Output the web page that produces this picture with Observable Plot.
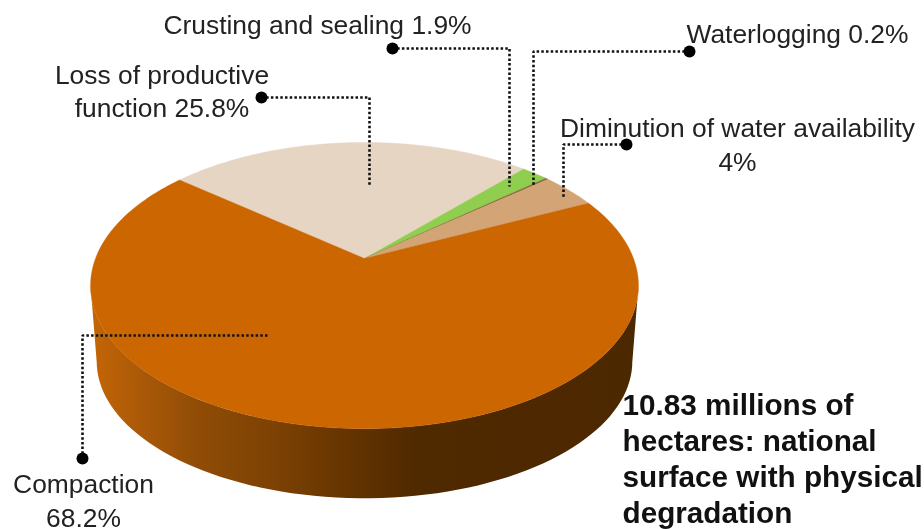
<!DOCTYPE html>
<html>
<head>
<meta charset="utf-8">
<style>html,body{margin:0;padding:0;background:#fff;overflow:hidden}svg{display:block;filter:blur(0.45px)}</style>
<script src="https://cdn.jsdelivr.net/npm/d3@7"></script>
<script src="https://cdn.jsdelivr.net/npm/@observablehq/plot@0.6"></script>
</head>
<body>
<script>
// Slices, clockwise from the back-left edge of the pie
const categories = ["Loss of productive function", "Crusting and sealing", "Waterlogging", "Diminution of water availability", "Compaction"];
const shares = [25.8, 1.9, 0.2, 4, 68.2];
const sliceColors = ["#e6d5c3", "#8fce4e", "#8a6a38", "#d3a475", "#cc6600"];

// Callouts
const labelTexts = ["Crusting and sealing 1.9%", "Waterlogging 0.2%", "Loss of productive\nfunction 25.8%", "Diminution of water availability\n4%", "Compaction\n68.2%"];
const labelX = [317, 797, 161.5, 737, 83];
const labelY = [22.6, 32, 89.4, 142.6, 499];
const noteText = "10.83 millions of\nhectares: national\nsurface with physical\ndegradation";

const leaderPaths = [
  [[392, 48], [509, 48], [509, 186]],
  [[689, 51], [533, 51], [533, 186]],
  [[261, 97], [369, 97], [369, 186]],
  [[626, 144], [563, 144], [563, 198]],
  [[82, 458], [82, 335], [267, 335]]
];

// Pie geometry: a tilted disc seen in perspective
const centerX = 364, topApexY = 258, bottomApexY = 335;
const radius = 269, bottomRadius = 263, persp = 0.189, lift = 138, bottomLift = 132;
const startDeg = 140.4;

function rim(deg, r, l, y0) {
  const a = deg * Math.PI / 180, u = Math.cos(a), v = Math.sin(a), w = 1 + persp * v;
  return {x: centerX + r * u / w, y: y0 - l * v / w};
}
const total = d3.sum(shares);
let cursor = startDeg;
const sliceRows = [];
categories.forEach((name, i) => {
  const sweep = shares[i] / total * 360;
  const n = Math.max(2, Math.ceil(sweep));
  sliceRows.push({name, x: centerX, y: topApexY});
  for (let j = 0; j <= n; j++) sliceRows.push({name, ...rim(cursor - sweep * j / n, radius, lift, topApexY)});
  sliceRows.push({name, x: centerX, y: topApexY});
  cursor -= sweep;
});
const sideRows = [];
for (let d = 191; d <= 349; d += 2) sideRows.push(rim(d, radius, lift, topApexY));
for (let d = 349; d >= 191; d -= 2) sideRows.push(rim(d, bottomRadius, bottomLift, bottomApexY));

const gradStops = [[0, "#c46606"], [0.1, "#a85808"], [0.2, "#8f4c06"], [0.35, "#7a4003"], [0.48, "#623300"], [0.6, "#4f2900"], [1, "#4c2800"]];
const sideGradient = () => {
  const defs = d3.create("svg:defs");
  const g = defs.append("linearGradient").attr("id", "sideGrad").attr("gradientUnits", "userSpaceOnUse")
    .attr("x1", 90).attr("x2", 640).attr("y1", 0).attr("y2", 0);
  gradStops.forEach(([o, c]) => g.append("stop").attr("offset", o).attr("stop-color", c));
  return defs.node();
};

const leaderRows = leaderPaths.flatMap((p, i) => p.map(([x, y]) => ({i, x, y})));
const dotRows = leaderPaths.map(p => ({x: p[0][0], y: p[0][1]}));
const labelRows = labelTexts.map((text, i) => ({text, x: labelX[i], y: labelY[i]}));

const chart = Plot.plot({
  width: 924, height: 529,
  marginTop: 0, marginRight: 0, marginBottom: 0, marginLeft: 0,
  style: {background: "#fff", fontFamily: "Liberation Sans, Arial, sans-serif"},
  x: {domain: [0, 924], range: [0, 924], axis: null},
  y: {domain: [0, 529], range: [0, 529], axis: null},
  color: {domain: categories, range: sliceColors},
  marks: [
    sideGradient,
    Plot.line(sideRows, {x: "x", y: "y", fill: "url(#sideGrad)", stroke: "none"}),
    Plot.line(sliceRows, {x: "x", y: "y", z: "name", fill: "name", stroke: "name", strokeWidth: 0.4}),
    Plot.line(leaderRows, {x: "x", y: "y", z: "i", stroke: "#111", strokeWidth: 2.6, strokeDasharray: "2.5 2.2", strokeLinecap: "butt", strokeLinejoin: "miter"}),
    Plot.dot(dotRows, {x: "x", y: "y", r: 6, fill: "#000"}),
    Plot.text(labelRows, {x: "x", y: "y", text: "text", fontSize: 26.4, lineHeight: 1.27, fill: "#222", textAnchor: "middle"}),
    Plot.text([noteText], {x: 622, y: 457, text: d => d, fontSize: 29.7, fontWeight: "bold", lineHeight: 1.215, fill: "#111", textAnchor: "start"})
  ]
});
document.body.append(chart);
</script>
</body>
</html>
